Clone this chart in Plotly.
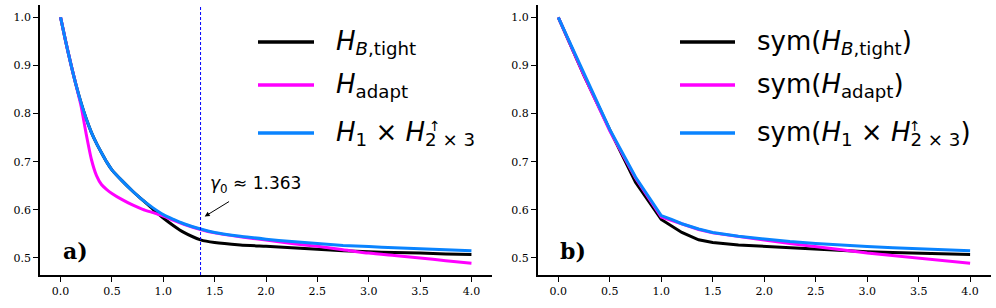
import plotly.graph_objects as go
from plotly.subplots import make_subplots

# ---------------- data ----------------
x_a = [0, 0.05, 0.1, 0.15, 0.2, 0.25, 0.3, 0.35, 0.4, 0.45, 0.5, 0.6, 0.7, 0.8, 0.9, 1.0,
       1.1, 1.2, 1.363, 1.5, 1.75, 2.0, 2.25, 2.5, 2.75, 3.0, 3.25, 3.5, 3.75, 4.0]
h_tight_a = [1.000, 0.950, 0.903, 0.860, 0.822, 0.789, 0.761, 0.738, 0.718, 0.699, 0.683, 0.660, 0.639, 0.620, 0.601, 0.583,
             0.567, 0.553, 0.5376, 0.532, 0.527, 0.524, 0.521, 0.518, 0.515, 0.513, 0.511, 0.510, 0.508, 0.507]
h_adapt_a = [1.000, 0.950, 0.903, 0.860, 0.815, 0.757, 0.705, 0.671, 0.652, 0.642, 0.634, 0.621, 0.610, 0.601, 0.594, 0.587,
             0.578, 0.570, 0.559, 0.552, 0.544, 0.537, 0.530, 0.524, 0.517, 0.510, 0.505, 0.500, 0.494, 0.489]
h_prod_a = [1.000, 0.950, 0.903, 0.860, 0.822, 0.789, 0.761, 0.738, 0.718, 0.699, 0.683, 0.660, 0.639, 0.620, 0.604, 0.590,
            0.580, 0.571, 0.560, 0.553, 0.545, 0.539, 0.534, 0.530, 0.526, 0.5235, 0.521, 0.519, 0.517, 0.515]

x_b = [0, 0.25, 0.5, 0.75, 1.0, 1.1, 1.2, 1.363, 1.5, 1.75, 2.0, 2.25, 2.5, 2.75, 3.0, 3.25, 3.5, 3.75, 4.0]
h_tight_b = [1.000, 0.879, 0.766, 0.657, 0.580, 0.566, 0.553, 0.5376, 0.532, 0.527, 0.524, 0.521, 0.518, 0.515, 0.513, 0.511, 0.510, 0.508, 0.507]
h_adapt_b = [1.000, 0.879, 0.764, 0.666, 0.585, 0.578, 0.570, 0.559, 0.552, 0.544, 0.537, 0.530, 0.524, 0.517, 0.510, 0.505, 0.500, 0.494, 0.489]
h_prod_b = [1.000, 0.882, 0.767, 0.668, 0.588, 0.580, 0.571, 0.560, 0.553, 0.545, 0.539, 0.534, 0.530, 0.526, 0.5235, 0.521, 0.519, 0.517, 0.515]

gamma0 = 1.363
x_ticks = [0, 0.5, 1.0, 1.5, 2.0, 2.5, 3.0, 3.5, 4.0]
y_ticks = [0.5, 0.6, 0.7, 0.8, 0.9, 1.0]

names_a = ["<i>H</i><sub><i>B</i>,tight</sub>", "<i>H</i><sub>adapt</sub>",
           "<i>H</i><sub>1</sub> × <i>H</i><sub>2 × 3</sub>"]
names_b = ["sym(<i>H</i><sub><i>B</i>,tight</sub>)", "sym(<i>H</i><sub>adapt</sub>)",
           "sym(<i>H</i><sub>1</sub> × <i>H</i><sub>2 × 3</sub>)"]

BLACK = "#000000"
MAGENTA = "#ff00ff"
BLUE = "#0a84ff"
colors = [BLACK, MAGENTA, BLUE]

W, H = 996, 308
def px(x):
    return x / W
def py(y):
    return 1 - y / H

fig = make_subplots(rows=1, cols=2)

for ys, c in zip([h_tight_a, h_adapt_a, h_prod_a], colors):
    fig.add_trace(go.Scatter(x=x_a, y=ys, mode="lines",
                             line=dict(color=c, width=3, shape="spline", smoothing=0.6),
                             showlegend=False), row=1, col=1)
for ys, c in zip([h_tight_b, h_adapt_b, h_prod_b], colors):
    fig.add_trace(go.Scatter(x=x_b, y=ys, mode="lines", line=dict(color=c, width=3),
                             showlegend=False), row=1, col=2)

axis_common = dict(showline=True, linecolor="black", linewidth=1.5, mirror=False,
                   ticks="outside", ticklen=5, tickwidth=1.2, tickcolor="black",
                   showgrid=False, zeroline=False, automargin=False,
                   tickfont=dict(family="DejaVu Serif", size=11, color="black"))

fig.update_xaxes(range=[-0.2, 4.2], tickvals=x_ticks, ticktext=[f"{v:.1f}" for v in x_ticks], **axis_common)
fig.update_yaxes(range=[0.4645, 1.0255], tickvals=y_ticks, ticktext=[f"{v:.1f}" for v in y_ticks], **axis_common)

fig.update_layout(
    width=W, height=H, margin=dict(l=0, r=0, t=0, b=0, autoexpand=False),
    plot_bgcolor="white", paper_bgcolor="white",
    xaxis=dict(domain=[px(40), px(492)]),
    xaxis2=dict(domain=[px(537.7), px(990.7)]),
    yaxis=dict(domain=[py(275), py(5)]),
    yaxis2=dict(domain=[py(275), py(5)]),
)

# vertical dashed line at gamma0
fig.add_shape(type="line", x0=gamma0, x1=gamma0, y0=0, y1=1, xref="x", yref="y domain",
              line=dict(color="#0000ff", width=1, dash="3px,2px"))

# gamma annotation
fig.add_annotation(x=1.432, y=0.652, xref="x", yref="y", text="<i>γ</i><sub>0</sub> ≈ 1.363",
                   showarrow=False, xanchor="left", yanchor="middle",
                   font=dict(family="DejaVu Sans", size=17, color="black"))
fig.add_annotation(x=1.403, y=0.586, ax=1.655, ay=0.619, xref="x", yref="y", axref="x", ayref="y",
                   text="", showarrow=True, arrowhead=2, arrowsize=1, arrowwidth=1, arrowcolor="black")

# panel labels
fig.add_annotation(x=0.146, y=0.5146, xref="x", yref="y", text="<b>a)</b>", showarrow=False,
                   font=dict(family="DejaVu Serif", size=22, color="black"))
fig.add_annotation(x=0.146, y=0.5146, xref="x2", yref="y2", text="<b>b)</b>", showarrow=False,
                   font=dict(family="DejaVu Serif", size=22, color="black"))

# legends (drawn manually)
leg_y = [42, 85, 133]
for (x0, x1, tx, arrow_x, names) in [(258, 314, 334, 435, names_a), (680, 735, 755, 915, names_b)]:
    for yy, c, nm in zip(leg_y, colors, names):
        fig.add_shape(type="line", x0=px(x0), x1=px(x1), y0=py(yy), y1=py(yy), xref="paper", yref="paper",
                      line=dict(color=c, width=3.3))
        fig.add_annotation(x=px(tx), y=py(yy), xref="paper", yref="paper", text=nm, showarrow=False,
                           xanchor="left", yanchor="middle",
                           font=dict(family="DejaVu Sans", size=26, color="black"))
    fig.add_annotation(x=px(arrow_x), y=py(126), xref="paper", yref="paper", text="↑", showarrow=False,
                       xanchor="center", yanchor="middle",
                       font=dict(family="DejaVu Sans", size=14, color="black"))

fig.write_html("out.html", config={"displayModeBar": False},
               post_script="document.body.style.margin='0px';document.body.style.padding='0px';")
